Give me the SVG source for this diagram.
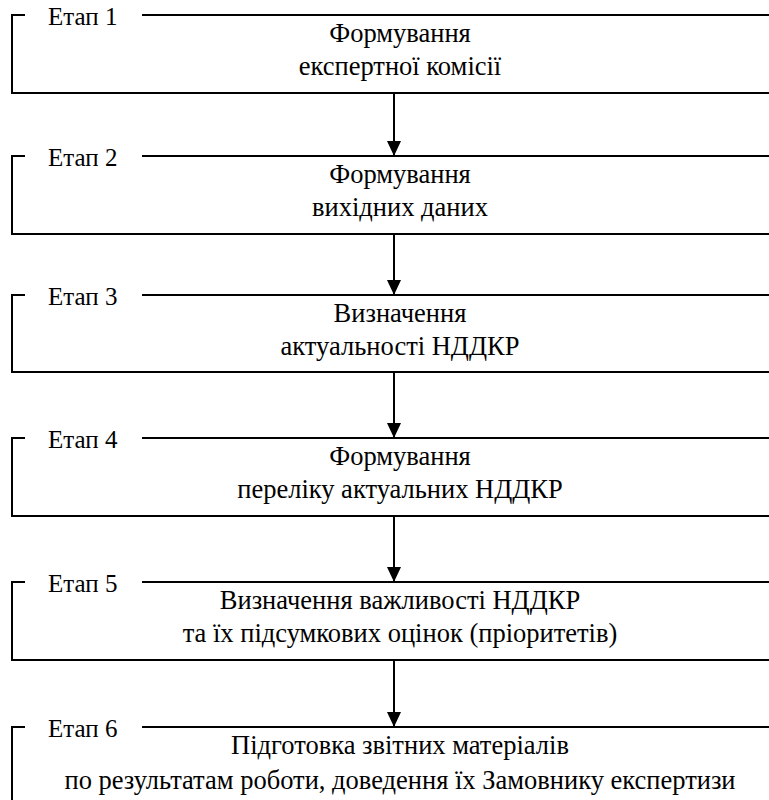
<svg xmlns="http://www.w3.org/2000/svg" width="769" height="800" viewBox="0 0 769 800">
<defs>
<style>
.frame{fill:none;stroke:#000;stroke-width:2}
.conn{stroke:#000;stroke-width:2;fill:none}
.lbl{text-anchor:start;font-size:25px}
.body{text-anchor:middle;font-size:26.5px}
</style>
<marker id="ah" markerWidth="15" markerHeight="14" refX="15" refY="7" orient="auto" markerUnits="userSpaceOnUse">
<path d="M0,0 L15,7 L0,14 Z" fill="#000"/>
</marker>
</defs>
<rect width="769" height="800" fill="#fff"/>
<g font-family="Liberation Serif, DejaVu Serif, serif" fill="#000">
<g id="stage1">
<path class="frame" d="M25,15 H12 V93 H790 M142,15 H790"/>
<text class="lbl" x="48" y="25">Етап 1</text>
<text class="body" x="400" y="42">Формування</text>
<text class="body" x="400" y="75">експертної комісії</text>
</g>
<g id="stage2">
<path class="frame" d="M25,156 H12 V234 H790 M142,156 H790"/>
<text class="lbl" x="48" y="166">Етап 2</text>
<text class="body" x="400" y="183">Формування</text>
<text class="body" x="400" y="216">вихідних даних</text>
</g>
<g id="stage3">
<path class="frame" d="M25,295 H12 V372 H790 M142,295 H790"/>
<text class="lbl" x="48" y="305">Етап 3</text>
<text class="body" x="400" y="322">Визначення</text>
<text class="body" x="400" y="355">актуальності НДДКР</text>
</g>
<g id="stage4">
<path class="frame" d="M25,438 H12 V516 H790 M142,438 H790"/>
<text class="lbl" x="48" y="448">Етап 4</text>
<text class="body" x="400" y="465">Формування</text>
<text class="body" x="400" y="498">переліку актуальних НДДКР</text>
</g>
<g id="stage5">
<path class="frame" d="M25,582 H12 V660 H790 M142,582 H790"/>
<text class="lbl" x="48" y="592">Етап 5</text>
<text class="body" x="400" y="609">Визначення важливості НДДКР</text>
<text class="body" x="400" y="642">та їх підсумкових оцінок (пріоритетів)</text>
</g>
<g id="stage6">
<path class="frame" d="M25,727 H12 V820 M142,727 H790"/>
<text class="lbl" x="48" y="737">Етап 6</text>
<text class="body" x="400" y="754">Підготовка звітних матеріалів</text>
<text class="body" x="400" y="789">по результатам роботи, доведення їх Замовнику експертизи</text>
</g>
</g>
<g id="connectors">
<line class="conn" x1="394" y1="93" x2="394" y2="156" marker-end="url(#ah)"/>
<line class="conn" x1="394" y1="234" x2="394" y2="295" marker-end="url(#ah)"/>
<line class="conn" x1="394" y1="372" x2="394" y2="438" marker-end="url(#ah)"/>
<line class="conn" x1="394" y1="516" x2="394" y2="582" marker-end="url(#ah)"/>
<line class="conn" x1="394" y1="660" x2="394" y2="727" marker-end="url(#ah)"/>
</g>
</svg>
